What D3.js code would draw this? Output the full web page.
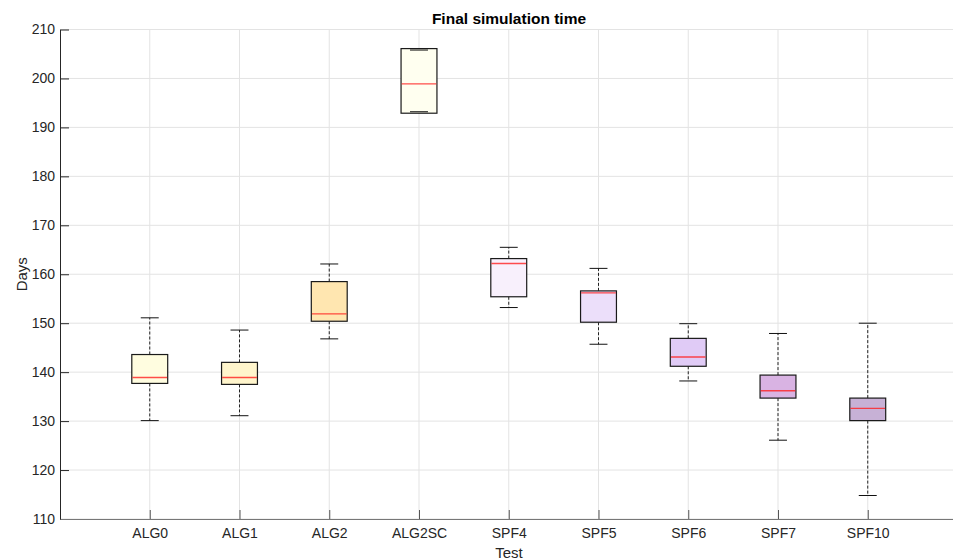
<!DOCTYPE html>
<html>
<head>
<meta charset="utf-8">
<script src="https://cdn.jsdelivr.net/npm/d3@7"></script>
<style>
  body { margin: 0; background: #fff; }
  svg { font-family: "Liberation Sans", Arial, Helvetica, sans-serif; }
</style>
</head>
<body>
<svg id="chart"></svg>
<script>
const width = 953, height = 560

// data
const tests   = ["ALG0", "ALG1", "ALG2", "ALG2SC", "SPF4", "SPF5", "SPF6", "SPF7", "SPF10"]
const lowerW  = [130.1, 131.1, 146.8, 193.2, 153.2, 145.7, 138.2, 126.1, 114.8]
const q1      = [137.7, 137.5, 150.4, 192.9, 155.4, 150.2, 141.2, 134.7, 130.1]
const medians = [138.9, 138.9, 151.9, 198.9, 162.2, 156.2, 143.1, 136.2, 132.6]
const q3      = [143.6, 142.0, 158.5, 206.1, 163.2, 156.6, 146.9, 139.4, 134.7]
const upperW  = [151.1, 148.6, 162.1, 205.8, 165.5, 161.2, 149.9, 147.9, 150.0]
const fills   = ["#fffde0", "#fff5cc", "#ffe6b0", "#fffff0", "#f8f0fc", "#ecdffa", "#e0cbf6", "#d9b3e3", "#c7b1d6"]
const yTicks  = [110, 120, 130, 140, 150, 160, 170, 180, 190, 200, 210]

const margin = {left: 60, top: 29.5, bottom: 41}
const plotBottom = height - margin.bottom

const svg = d3.select("#chart").attr("width", width).attr("height", height)

// the axes run past the right edge of the window
let x = d3.scaleLinear().domain([0, tests.length + 1]).range([margin.left, margin.left + 89.75 * (tests.length + 1)])
let y = d3.scaleLinear().domain([110, 210]).range([plotBottom, margin.top])

// grid
svg.append("g").selectAll("line.hgrid")
    .data(yTicks)
    .enter().append("line")
    .attr("x1", margin.left).attr("x2", x.range()[1])
    .attr("y1", d => y(d)).attr("y2", d => y(d))
    .style("stroke", "#e3e3e3").style("stroke-width", 1)
svg.append("g").selectAll("line.vgrid")
    .data(tests)
    .enter().append("line")
    .attr("x1", (d, i) => x(i + 1)).attr("x2", (d, i) => x(i + 1))
    .attr("y1", margin.top).attr("y2", plotBottom)
    .style("stroke", "#e3e3e3").style("stroke-width", 1)

// axes
const yAxis = svg.append("g")
    .attr("transform", `translate(${margin.left},0)`)
    .call(d3.axisLeft(y).tickValues(yTicks).tickSizeInner(-9).tickSizeOuter(0).tickPadding(5))
yAxis.select(".domain").style("stroke", "#262626")
yAxis.selectAll(".tick line").style("stroke", "#262626")
yAxis.selectAll("text").style("font-size", "14px").style("fill", "#262626")

const xAxis = svg.append("g")
    .attr("transform", `translate(0,${plotBottom})`)
    .call(d3.axisBottom(x).tickValues(d3.range(1, tests.length + 1))
        .tickFormat(d => tests[d - 1]).tickSizeInner(-9).tickSizeOuter(0).tickPadding(9))
xAxis.select(".domain").style("stroke", "#777").style("stroke-width", 1.2)
xAxis.selectAll(".tick line").style("stroke", "#555")
xAxis.selectAll("text").style("font-size", "14px").style("fill", "#262626")

// boxes
const boxW = 0.4, capW = 0.2
const boxes = svg.append("g").selectAll("g")
    .data(tests.map((t, i) => ({t, i, lo: lowerW[i], q1: q1[i], med: medians[i], q3: q3[i], hi: upperW[i], fill: fills[i]})))
    .enter().append("g")

boxes.append("line")  // upper whisker
    .attr("x1", d => x(d.i + 1)).attr("x2", d => x(d.i + 1))
    .attr("y1", d => y(d.q3)).attr("y2", d => y(d.hi))
    .style("stroke", "#222").style("stroke-dasharray", "3,2")
boxes.append("line")  // lower whisker
    .attr("x1", d => x(d.i + 1)).attr("x2", d => x(d.i + 1))
    .attr("y1", d => y(d.q1)).attr("y2", d => y(d.lo))
    .style("stroke", "#222").style("stroke-dasharray", "3,2")

boxes.append("rect")
    .attr("x", d => x(d.i + 1 - boxW / 2))
    .attr("width", x(boxW) - x(0))
    .attr("y", d => y(d.q3))
    .attr("height", d => y(d.q1) - y(d.q3))
    .style("fill", d => d.fill)
    .style("stroke", "#1a1a1a").style("stroke-width", 1.2)

boxes.append("line")  // upper cap
    .attr("x1", d => x(d.i + 1 - capW / 2)).attr("x2", d => x(d.i + 1 + capW / 2))
    .attr("y1", d => y(d.hi)).attr("y2", d => y(d.hi))
    .style("stroke", "#111")
boxes.append("line")  // lower cap
    .attr("x1", d => x(d.i + 1 - capW / 2)).attr("x2", d => x(d.i + 1 + capW / 2))
    .attr("y1", d => y(d.lo)).attr("y2", d => y(d.lo))
    .style("stroke", "#111")

boxes.append("line")  // median
    .attr("x1", d => x(d.i + 1 - boxW / 2) + 0.6).attr("x2", d => x(d.i + 1 + boxW / 2) - 0.6)
    .attr("y1", d => y(d.med)).attr("y2", d => y(d.med))
    .style("stroke", "#ff2020").style("stroke-width", 1.4).style("stroke-opacity", 0.8)

// labels
svg.append("text")
    .attr("x", 509).attr("y", 24)
    .attr("text-anchor", "middle")
    .style("font-size", "15.5px").style("font-weight", "bold").style("fill", "#000")
    .text("Final simulation time")
svg.append("text")
    .attr("x", 509).attr("y", 558)
    .attr("text-anchor", "middle")
    .style("font-size", "15px").style("fill", "#262626")
    .text("Test")
svg.append("text")
    .attr("transform", `translate(27,${(margin.top + plotBottom) / 2}) rotate(-90)`)
    .attr("text-anchor", "middle")
    .style("font-size", "15px").style("fill", "#262626")
    .text("Days")
</script>
</body>
</html>
